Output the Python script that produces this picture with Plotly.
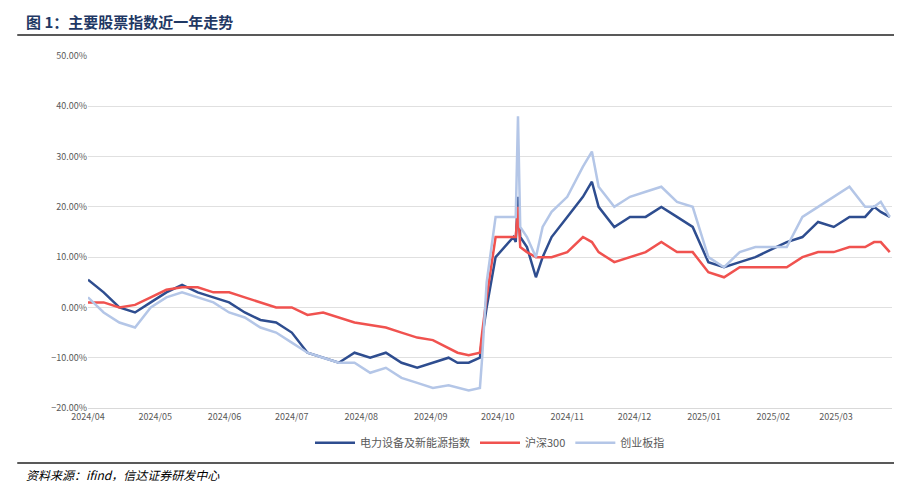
import plotly.graph_objects as go

dates = ["2024-04-01","2024-04-08","2024-04-15","2024-04-22","2024-04-29","2024-05-06","2024-05-13","2024-05-20","2024-05-27",
"2024-06-03","2024-06-10","2024-06-17","2024-06-24","2024-07-01","2024-07-08","2024-07-15","2024-07-22","2024-07-29",
"2024-08-05","2024-08-12","2024-08-19","2024-08-26","2024-09-02","2024-09-09","2024-09-13","2024-09-18","2024-09-23",
"2024-09-24","2024-09-26","2024-09-30","2024-10-08","2024-10-09","2024-10-10","2024-10-11","2024-10-14","2024-10-18",
"2024-10-21","2024-10-25","2024-11-01","2024-11-08","2024-11-12","2024-11-15","2024-11-22","2024-11-29","2024-12-06",
"2024-12-13","2024-12-20","2024-12-27","2025-01-03","2025-01-10","2025-01-17","2025-01-24","2025-02-07","2025-02-14",
"2025-02-21","2025-02-28","2025-03-07","2025-03-14","2025-03-18","2025-03-21","2025-03-25"]
power = [5.5,3,0,-1,1,3,4.5,3,2,1,-1,-2.5,-3,-5,-9,-10,-11,-9,-10,-9,-11,-12,-11,-10,-11,-11,-10,-6,0,10,14,13,22,14,12,6,
10,14,18,22,25,20,16,18,18,20,18,16,9,8,9,10,13,14,17,16,18,18,20,19,18]
hs300 = [1,1,0,0.5,2,3.5,4,4,3,3,2,1,0,0,-1.5,-1,-2,-3,-3.5,-4,-5,-6,-6.5,-8,-9,-9.5,-9,-5,2,14,14,14,20,12,11,10,
10,10,11,14,13,11,9,10,11,13,11,11,7,6,8,8,8,10,11,11,12,12,13,13,11]
chinext = [2,-1,-3,-4,0,2,3,2,1,-1,-2,-4,-5,-7,-9,-10,-11,-11,-13,-12,-14,-15,-16,-15.5,-16,-16.5,-16,-10,5,18,18,18,38,16,14,10,
16,19,22,28,31,24,20,22,23,24,21,20,10,8,11,12,12,18,20,22,24,20,20,21,18]
tickvals = ["2024-04-01","2024-05-01","2024-06-01","2024-07-01","2024-08-01","2024-09-01","2024-10-01","2024-11-01","2024-12-01","2025-01-01","2025-02-01","2025-03-01"]
ticktext = ["2024/04","2024/05","2024/06","2024/07","2024/08","2024/09","2024/10","2024/11","2024/12","2025/01","2025/02","2025/03"]

f = "Noto Sans CJK SC"
fig = go.Figure()
fig.add_trace(go.Scatter(x=dates, y=[v/100 for v in power], name="电力设备及新能源指数", mode="lines", line=dict(color="#2E4D8F", width=2.5)))
fig.add_trace(go.Scatter(x=dates, y=[v/100 for v in hs300], name="沪深300", mode="lines", line=dict(color="#F0524F", width=2.5)))
fig.add_trace(go.Scatter(x=dates, y=[v/100 for v in chinext], name="创业板指", mode="lines", line=dict(color="#B4C6E7", width=2.5)))
fig.update_layout(width=902, height=481, margin=dict(l=80, r=18, t=48, b=81), plot_bgcolor="white", paper_bgcolor="white",
    font=dict(family=f, size=10, color="#595959"),
    legend=dict(orientation="h", x=0.5, xanchor="center", y=-0.099, yanchor="middle", font=dict(size=11), itemwidth=40),
    xaxis=dict(range=["2024-04-01","2025-03-26"], tickvals=tickvals, ticktext=ticktext, showgrid=False, showline=True, linecolor="#D9D9D9", ticks="", tickfont=dict(size=9)),
    yaxis=dict(range=[-0.2,0.5], dtick=0.1, tickformat=".2%", gridcolor="#E0E0E0", zeroline=False, tickfont=dict(size=9)),
    annotations=[
        dict(text="<b>图 1：主要股票指数近一年走势</b>", xref="paper", yref="paper", x=-0.08, y=1.099, xanchor="left", yanchor="middle", showarrow=False, font=dict(size=15, color="#1F3864", family=f)),
        dict(text="<i>资料来源：ifind，信达证券研发中心</i>", xref="paper", yref="paper", x=-0.08, y=-0.19, xanchor="left", yanchor="middle", showarrow=False, font=dict(size=12, color="#000000", family=f)),
    ],
    shapes=[
        dict(type="line", xref="paper", yref="paper", x0=-0.088, x1=1.02, y0=1.06, y1=1.06, line=dict(color="#595959", width=2)),
        dict(type="line", xref="paper", yref="paper", x0=-0.088, x1=1.02, y0=-0.156, y1=-0.156, line=dict(color="#595959", width=2)),
    ])
fig.write_html("out.html")
